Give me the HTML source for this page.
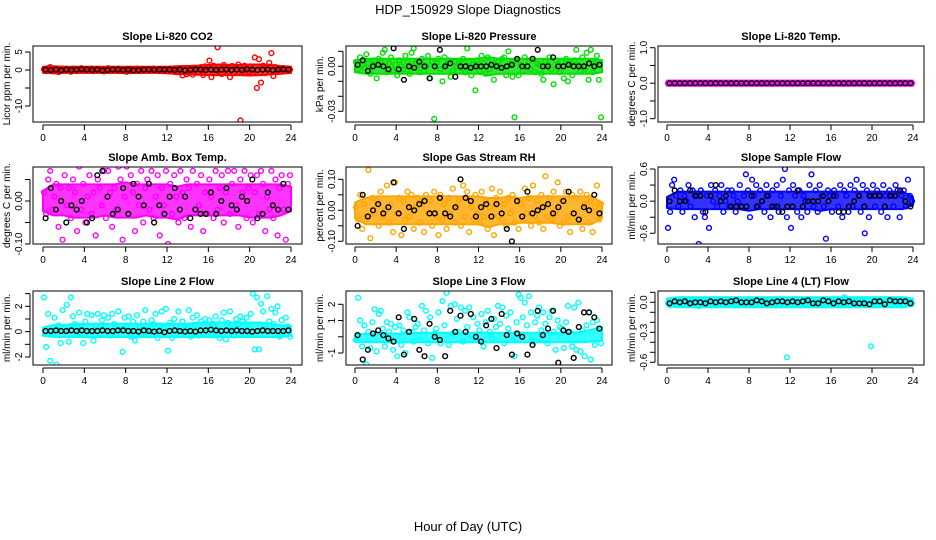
<!DOCTYPE html>
<html><head><meta charset="utf-8"><style>
body{margin:0;background:#fff;}
svg{display:block;font-family:"Liberation Sans",sans-serif;}
</style></head><body>
<svg id="chart" width="936" height="540" viewBox="0 0 936 540" xmlns="http://www.w3.org/2000/svg">
<defs id="defs"></defs>
<text x="468" y="14" text-anchor="middle" font-size="13">HDP_150929  Slope Diagnostics</text>
<text x="468" y="531" text-anchor="middle" font-size="13">Hour of Day (UTC)</text>
</svg>
<script>
// x ticks
const xTicks = [0,4,8,12,16,20,24];
// dense-band envelopes, one value per hour 0..24
const co2BandHi = [0.5,0.6,0.5,0.5,0.5,0.5,0.5,0.5,0.5,0.5,0.5,0.5,0.5,0.6,0.7,0.8,1.0,1.1,1.0,1.0,1.1,1.1,1.0,0.7,0.5];
const co2BandLo = [-0.4,-0.5,-0.4,-0.4,-0.4,-0.4,-0.4,-0.4,-0.5,-0.4,-0.4,-0.4,-0.5,-0.7,-0.8,-0.9,-1.0,-1.0,-1.0,-1.0,-1.1,-1.0,-0.8,-0.6,-0.4];
const presBandHi = [0.003,0.004,0.004,0.004,0.004,0.004,0.004,0.004,0.004,0.004,0.004,0.004,0.004,0.005,0.004,0.004,0.004,0.004,0.004,0.004,0.004,0.004,0.004,0.004,0.003];
const presBandLo = [-0.003,-0.004,-0.004,-0.004,-0.004,-0.004,-0.004,-0.004,-0.004,-0.004,-0.004,-0.004,-0.004,-0.005,-0.004,-0.004,-0.004,-0.004,-0.004,-0.004,-0.004,-0.004,-0.004,-0.004,-0.003];
const tempBandHi = [0.03,0.03,0.03,0.03,0.03,0.03,0.03,0.03,0.03,0.03,0.03,0.03,0.03,0.03,0.03,0.03,0.03,0.03,0.03,0.03,0.03,0.03,0.03,0.03,0.03];
const tempBandLo = [-0.03,-0.03,-0.03,-0.03,-0.03,-0.03,-0.03,-0.03,-0.03,-0.03,-0.03,-0.03,-0.03,-0.03,-0.03,-0.03,-0.03,-0.03,-0.03,-0.03,-0.03,-0.03,-0.03,-0.03,-0.03];
const ambBandHi = [0.02,0.035,0.035,0.035,0.035,0.035,0.035,0.035,0.04,0.035,0.035,0.035,0.035,0.03,0.035,0.035,0.035,0.035,0.035,0.035,0.035,0.035,0.035,0.035,0.03];
const ambBandLo = [-0.02,-0.03,-0.03,-0.035,-0.035,-0.035,-0.03,-0.035,-0.035,-0.035,-0.03,-0.035,-0.035,-0.04,-0.03,-0.03,-0.03,-0.03,-0.03,-0.03,-0.035,-0.035,-0.035,-0.03,-0.02];
const rhBandHi = [0.02,0.035,0.04,0.04,0.04,0.04,0.04,0.04,0.04,0.04,0.04,0.04,0.04,0.035,0.035,0.04,0.035,0.04,0.04,0.04,0.04,0.04,0.04,0.04,0.02];
const rhBandLo = [-0.02,-0.04,-0.04,-0.04,-0.04,-0.04,-0.04,-0.04,-0.04,-0.04,-0.04,-0.04,-0.04,-0.05,-0.04,-0.04,-0.035,-0.035,-0.035,-0.035,-0.04,-0.04,-0.04,-0.04,-0.02];
const flowBandHi = [0.05,0.15,0.15,0.15,0.15,0.15,0.15,0.15,0.15,0.15,0.15,0.15,0.15,0.15,0.15,0.15,0.15,0.15,0.15,0.15,0.15,0.15,0.15,0.15,0.05];
const flowBandLo = [-0.1,-0.12,-0.12,-0.12,-0.12,-0.12,-0.12,-0.12,-0.15,-0.12,-0.12,-0.12,-0.12,-0.12,-0.12,-0.15,-0.12,-0.12,-0.12,-0.12,-0.12,-0.12,-0.12,-0.12,-0.05];
const line2BandHi = [0.2,0.4,0.4,0.5,0.5,0.5,0.5,0.5,0.5,0.5,0.5,0.5,0.5,0.5,0.5,0.6,0.6,0.6,0.6,0.6,0.6,0.6,0.5,0.4,0.3];
const line2BandLo = [-0.2,-0.3,-0.3,-0.3,-0.3,-0.3,-0.3,-0.3,-0.3,-0.3,-0.3,-0.3,-0.3,-0.3,-0.3,-0.3,-0.3,-0.3,-0.3,-0.3,-0.3,-0.3,-0.3,-0.3,-0.2];
const line3BandHi = [0.05,0.1,0.1,0.1,0.1,0.1,0.15,0.15,0.15,0.15,0.15,0.15,0.15,0.15,0.15,0.15,0.15,0.15,0.15,0.15,0.15,0.15,0.2,0.35,0.5];
const line3BandLo = [-0.2,-0.25,-0.25,-0.25,-0.25,-0.25,-0.25,-0.25,-0.25,-0.25,-0.25,-0.25,-0.25,-0.25,-0.25,-0.25,-0.25,-0.25,-0.25,-0.25,-0.25,-0.25,-0.25,-0.2,-0.15];
const line4BandHi = [0.02,0.035,0.035,0.035,0.035,0.035,0.035,0.035,0.035,0.035,0.035,0.035,0.035,0.035,0.035,0.035,0.035,0.035,0.035,0.035,0.035,0.035,0.035,0.035,0.02];
const line4BandLo = [-0.02,-0.035,-0.035,-0.035,-0.035,-0.035,-0.035,-0.035,-0.035,-0.035,-0.035,-0.035,-0.035,-0.035,-0.035,-0.035,-0.035,-0.035,-0.035,-0.035,-0.035,-0.035,-0.035,-0.035,-0.02];
// colored series: sampled every 0.2 h starting 0.1 h; black series every 0.5 h starting 0.25 h
const co2Vals = [0.2,-0.3,0.5,0.8,0.1,-0.4,0.3,-0.6,0.2,0.4,-0.2,0.3,0.1,-0.5,0.4,0.2,-0.3,0.1,0.5,-0.2,0.3,-0.1,0.2,0.4,-0.3,0.1,-0.2,0.3,0.1,-0.4,0.2,0.5,-0.3,0.1,0.3,-0.2,0.4,0.1,-0.1,0.2,-0.5,0.2,0.3,-0.2,0.1,0.4,-0.3,0.2,0.1,-0.1,0.3,0.1,-0.2,0.4,0.2,-0.3,0.1,0.3,-0.1,0.2,0.1,-0.4,0.3,0.2,-0.6,0.5,-0.3,-1.5,0.2,-1.2,-0.8,0.4,-1.3,0.6,0.3,-0.5,0.8,-1.4,1.0,0.5,2.6,-2.0,1.2,-0.8,6.3,0.9,-1.1,1.4,0.7,-0.6,-2.0,1.1,-0.9,0.8,1.5,-14.0,-0.7,1.2,0.5,-0.4,1.0,-0.8,3.5,-5.0,3.0,-3.5,1.2,-0.9,0.6,2.0,4.7,-1.7,0.8,-0.5,0.4,-0.3,0.5,-0.2,0.3,0.1];
const co2Black = [0.1,0,0.1,-0.1,0.1,0,0.1,0.2,0.1,0,0.1,-0.1,0,0.1,0.1,0,0.1,-0.1,0,0.1,0.1,0,0.1,0.1,0.1,0,0.1,-0.1,0,0.1,0.1,0,0.1,0,0.1,0.1,0,0.1,0,0.2,0.1,0,0.1,0.1,0,0.1,0.2,0.1];
const presVals = [0.003,-0.002,0.006,0.001,-0.001,0.008,0.002,-0.005,0,0.004,-0.008,0.005,0.003,0.009,0.011,-0.004,0.002,0.006,-0.003,0.001,-0.006,0.004,0,-0.002,0.007,0.003,-0.005,0.009,0.012,0.002,0.001,-0.004,0.005,-0.003,0,0.007,-0.008,0.003,-0.035,0.002,0.005,-0.002,-0.010,0.006,0.001,0.004,-0.007,-0.003,0.003,0,0.002,-0.001,0.005,-0.004,0.012,0.003,-0.006,0.001,-0.016,0.004,-0.003,0.007,0.002,-0.005,0.006,-0.002,0.004,-0.009,0.001,0.003,-0.001,0.005,0.006,-0.006,0.010,0.002,-0.007,-0.034,0.004,-0.006,0.001,-0.003,0.006,0,0.003,-0.002,0.005,-0.004,0.002,0.001,-0.005,-0.009,0.003,0.001,0.006,-0.002,-0.012,0.004,0,-0.004,0.003,-0.008,0.005,-0.010,0.002,-0.006,0.004,0.011,0.001,-0.003,0.006,-0.002,0.009,-0.009,0.011,-0.004,0.002,0.007,-0.009,-0.034];
const presBlack = [0.001,0.004,-0.003,0,0.001,0,-0.002,0.012,-0.002,-0.009,0,-0.001,0.003,0,-0.008,0,0.011,0,0.002,-0.007,0,0,-0.001,0,0,0,0.001,0,-0.001,0,0.001,0.005,0,0,0.005,0.011,0,0,0.006,0,0,0.001,0,0,0,0.002,0,0.001];
const tempVals = [0,0,0,0,0,0,0,0,0,0,0,0,0,0,0,0,0,0,0,0,0,0,0,0,0,0,0,0,0,0,0,0,0,0,0,0,0,0,0,0,0,0,0,0,0,0,0,0,0,0,0,0,0,0,0,0,0,0,0,0,0,0,0,0,0,0,0,0,0,0,0,0,0,0,0,0,null,0,0,0,0,0,0,0,0,0,0,0,0,0,0,0,0,0,0,0,0,0,0,0,0,0,0,0,0,0,0,0,0,0,0,0,0,0,0,0,0,0,0,0];
const tempBlack = [0,0,0,0,0,0,0,0,0,0,0,0,0,0,0,0,0,0,0,0,0,0,0,0,0,0,0,0,0,0,0,0,0,0,0,0,0,0,0,0,0,0,0,0,0,0,0,0];
const ambVals = [0.02,-0.03,0.05,0.07,-0.02,0.01,0.04,-0.06,0.03,-0.09,0.06,-0.01,0.03,-0.04,0.05,0.02,-0.07,0.08,-0.02,0.04,-0.05,0.01,0.06,-0.03,0.02,-0.08,0.05,0.03,-0.01,0.07,-0.04,0.07,0.02,-0.06,0.03,-0.02,0.08,0.05,-0.09,0.01,0.08,-0.03,0.06,0.02,-0.07,0.04,-0.01,0.07,-0.05,0.03,0.05,-0.02,0.07,-0.04,0.01,0.06,-0.08,0.03,-0.01,0.07,-0.10,0.04,-0.03,0.06,0.01,-0.05,0.07,0.02,-0.04,0.05,0.03,-0.06,0.07,-0.02,0.04,-0.01,0.06,-0.07,0.02,-0.03,0.05,0.01,-0.04,0.07,-0.02,0.03,0.06,-0.05,0.02,0.07,-0.03,0.04,0.07,-0.01,-0.06,0.05,0.02,0.07,-0.04,0.03,0.06,-0.05,0.02,0.06,-0.03,0.07,0.04,-0.07,0.01,-0.02,0.07,-0.04,0.05,-0.08,0.03,0.06,-0.02,-0.09,0.04,0.06];
const ambBlack = [-0.04,0.03,-0.02,0,-0.05,-0.01,-0.02,0,-0.05,-0.04,0.06,0.07,0.01,-0.03,-0.02,0.03,-0.03,0.04,0.01,-0.01,0.04,-0.05,-0.01,-0.03,0.01,0.03,-0.02,0.01,-0.04,-0.02,-0.03,-0.03,0.02,-0.03,0,0.03,-0.01,-0.02,0.01,0,0.05,-0.04,-0.03,0.02,-0.01,-0.02,0.04,-0.02];
const rhVals = [0.01,-0.03,0.05,-0.06,0.02,-0.02,0.13,-0.09,0.04,-0.01,0.03,-0.05,0.06,-0.02,0,0.08,-0.04,0.02,-0.07,0.09,-0.01,0.04,-0.08,0.03,-0.03,0.06,-0.02,0.05,-0.06,0.01,0.04,-0.04,0.02,-0.07,0.05,-0.01,0.03,-0.05,0.06,-0.02,-0.08,0.05,-0.03,0.02,-0.06,0.04,-0.01,0.07,-0.04,0.01,0.03,-0.05,0.08,-0.02,0.06,-0.07,0.01,-0.03,0.05,-0.01,-0.04,0.06,-0.02,0.03,-0.06,0.01,0.07,-0.08,0.04,-0.02,0.06,-0.03,0.02,-0.05,0.04,-0.01,0.05,-0.04,0.03,-0.06,0.02,-0.03,0.07,-0.01,0.04,-0.05,0.08,-0.02,0.03,-0.04,0.05,-0.06,0.11,-0.02,0.04,-0.03,0.06,-0.01,0.09,-0.05,0.03,-0.04,0.06,-0.02,-0.07,0.05,-0.01,0.04,-0.03,0.06,-0.06,0.02,0.05,-0.04,0.03,-0.07,0.01,0.08,-0.03,0.02];
const rhBlack = [-0.05,0.05,-0.02,0,0.02,-0.01,0.01,0.09,-0.01,-0.06,0.01,0,0.02,0.03,-0.01,-0.01,0.04,-0.01,-0.02,0.01,0.10,0.04,0.03,-0.02,0.01,0.02,-0.02,0.02,-0.01,-0.06,-0.10,0.03,-0.02,0.06,-0.01,0,0.01,0.02,-0.01,0.01,0.03,0.06,-0.01,-0.03,0.01,0,0.05,-0.01];
const flowVals = [-0.5,-0.2,0.3,0.4,0.1,-0.1,0.2,-0.2,0.1,0,0.3,-0.1,0.2,-0.3,0.1,-0.8,0.2,-0.2,-0.3,0.1,-0.5,0.3,0,0.2,-0.1,0.1,0.3,-0.2,0,0.2,-0.1,0.2,0.1,-0.2,0,0.3,-0.1,0.1,0.5,0.2,-0.3,0.4,0.1,0.3,-0.1,0.2,0,-0.2,0.3,0.1,-0.3,0.2,-0.1,0.3,-0.2,0.1,0.4,0.6,-0.3,0.2,-0.5,0.3,0.1,-0.2,0.2,-0.3,0.1,0,-0.2,0.3,0.5,-0.1,0.2,-0.2,0.3,0.1,-0.1,-0.7,0.2,0.1,-0.2,0.2,0.1,-0.1,0.3,-0.3,0.2,0.1,-0.2,0.3,-0.1,0.2,0.4,0.1,-0.2,0.3,-0.6,0.2,-0.3,0.1,0.3,-0.1,0.2,0.1,-0.2,0.3,0.1,-0.3,0.2,0.1,-0.1,0.3,0.2,-0.3,0.1,0.2,-0.1,0.4,0.1,0];
const flowBlack = [0,0.2,0,0,0.2,0.1,0.1,-0.2,0.1,0.3,0,0.1,-0.1,-0.1,-0.1,-0.1,0.1,-0.1,0,0.1,-0.1,-0.1,-0.2,-0.1,-0.1,0.2,-0.1,0,0,0,0.1,0,0.1,-0.2,-0.2,-0.1,0,0.1,-0.1,0.1,0.1,0.1,-0.1,0.1,0.1,0.2,0,-0.1];
const line2Vals = [2.7,-1.2,1.4,-2.3,-0.2,1.1,-2.6,0.5,-0.9,1.7,0.3,2.1,-0.8,2.7,1.2,0.6,-0.2,1.5,0.4,-0.9,0.8,1.4,-0.3,1.3,-0.7,0.5,1.4,-0.2,0.9,1.3,0.4,1.1,-0.3,1.4,0.6,-0.2,1.6,0.2,-1.6,1.1,0.5,1.2,-0.4,0.8,-0.7,1.3,0.3,-0.2,0.8,1.7,0.2,-0.3,0.9,0.6,1.4,-0.5,0.5,1.6,0.3,1.8,-1.5,0.7,-0.5,1.0,0.4,1.6,-0.2,0.8,0.5,0.3,1.7,-0.4,1.1,0.5,1.3,-0.3,0.8,-0.2,1.0,0.4,0.9,-0.3,0.6,1.2,0.3,-0.5,0.9,1.5,-0.6,0.7,1.6,0.2,-0.3,1.0,0.6,1.2,0.8,-0.2,1.1,0.5,1.4,3.0,-1.4,2.7,-1.4,2.2,1.6,0.5,2.8,0.8,1.8,0.6,1.5,2.0,-0.4,0.9,0.3,1.1,0.4,-0.4];
const line2Black = [0.05,0.05,0.1,0.05,0.05,0.1,0.05,0.1,0.05,0.05,0.05,0.1,0.05,0.05,0.1,0.1,0.05,0.05,0,0.1,0.05,0,0.05,-0.05,0.05,0.1,0.05,0,0.05,0,0.1,0.1,0.15,0.1,0.05,0.1,0.05,0.1,0.05,0.05,0,0.05,0.1,0.05,0.05,0.05,0.05,0.1];
const line3Vals = [-0.2,2.4,1.0,-0.6,0.7,-1.7,0.3,-0.7,0.9,1.7,-0.9,1.4,1.6,0.5,-0.6,0.9,0.3,0.8,-0.8,0.6,-1.2,0.7,-0.5,0.4,-1.0,1.5,1.2,0.3,-0.3,0.6,0.8,-0.2,1.9,0.4,1.6,-0.4,1.2,-1.3,0.2,0.5,1.5,-0.4,2.2,0.7,2.7,-0.5,1.9,0.2,2.0,1.1,0.3,1.8,-0.3,1.6,0.6,1.8,0.1,1.2,-0.2,0.8,0.4,1.4,-0.6,0.9,1.6,0.3,-0.1,1.1,0.6,1.9,0.8,1.8,-0.4,1.3,0.5,1.5,-0.2,-1.2,0.9,2.6,2.4,1.2,2.1,0.7,2.5,1.5,-0.3,0.9,1.3,1.8,0.4,1.5,0.8,-0.4,1.2,1.6,0.3,-0.8,1.0,0.6,0.5,-0.7,0.9,1.9,0.3,-0.6,1.8,-0.8,2.1,-0.9,0.4,-1.2,0.7,1.5,-1.4,0.9,-0.5,1.0,0.5,-0.4];
const line3Black = [0.1,-1.4,-0.8,0.2,0.4,0.1,-0.1,-0.3,1.2,-1.1,0.3,1.1,-0.8,-1.2,0.8,0,-0.2,-1.2,1.6,0.3,1.3,0.3,1.4,0,-0.3,0.7,1.1,-0.7,1.4,0.1,-1.1,0.2,0,-1.1,-0.5,1.6,0.1,0.5,1.6,-1.6,0.4,0.3,-1.3,0.6,1.5,1.5,1.2,0.5];
const line4Vals = [-0.01,-0.03,0.02,0,-0.02,0.03,0.01,-0.01,0.02,0,-0.02,0.01,0.03,-0.01,0,-0.04,0.02,0.01,-0.66,0,0.02,-0.01,0.03,0,-0.02,0.01,0.02,-0.01,0,0.03,0.01,-0.02,0,0.02,-0.01,0.03,0,-0.01,0.02,-0.03,0,0.02,-0.01,0.01,0.03,-0.02,0,0.01,-0.01,0.02,-0.02,0.01,0,0.03,-0.01,0.02,0,-0.02,-0.55,0.01,0.01,-0.01,0.02,0,-0.02,0.03,0.01,-0.01,0,0.02,-0.01,0.02,0,-0.03,0.01,0.02,-0.01,0,0.03,0.01,-0.02,0.01,0.03,0,-0.01,0.02,0.05,-0.01,0,0.01,0.02,-0.01,0,0.03,-0.02,0.01,0,-0.01,0.02,-0.44,0.01,-0.02,0,0.02,0.03,-0.01,0.01,0,-0.02,0.02,0.03,0,-0.01,0.02,0.01,-0.02,0.03,0,0.01,-0.01];
const line4Black = [-0.01,0.01,0,0.01,-0.01,0,0,-0.01,0.01,0,0.01,0,0.01,0.02,0,0,0,0.02,0.01,-0.01,0,0.01,0.01,0,0.01,0,0.01,0.02,-0.01,-0.01,0.02,0.01,-0.01,0.01,0,0.01,-0.01,-0.01,-0.01,-0.02,0.01,0.01,-0.02,0.02,0.01,0.01,0.01,-0.01];

const co2Ticks=[5,0,-5,-10], co2Labels=["5","0","","-10"];
const presTicks=[0.01,0,-0.01,-0.02,-0.03], presLabels=["","0.00","","","-0.03"];
const tempTicks=[1,0.5,0,-0.5,-1], tempLabels=["1.0","","0.0","","-1.0"];
const ambTicks=[0.05,0,-0.05,-0.1], ambLabels=["","0.00","","-0.10"];
const rhTicks=[0.1,0.05,0,-0.05,-0.1], rhLabels=["0.10","","0.00","","-0.10"];
const flowTicks=[0.6,0.3,0,-0.3,-0.6], flowLabels=["0.6","","0.0","","-0.6"];
const line2Ticks=[3,2,1,0,-1,-2], line2Labels=["","2","","0","","-2"];
const line3Ticks=[2,1,0,-1], line3Labels=["2","1","","-1"];
const line4Ticks=[0.1,0,-0.1,-0.2,-0.3,-0.4,-0.5,-0.6], line4Labels=["","0.0","","","-0.3","","","-0.6"];

const NS="http://www.w3.org/2000/svg";
const svg=document.getElementById('chart');
const defs=document.getElementById('defs');
const cols=[{L:33,R:302,x0:43,x24:291},{L:346,R:612,x0:355,x24:602},{L:658,R:924,x0:667,x24:913}];
const rows=[{T:46,B:122},{T:167,B:244},{T:291,B:365}];
const panels=[
 {name:'co2',title:'Slope Li-820 CO2',ylab:'Licor ppm per min.',c:0,r:0,v1:0,y1:70,v2:5,y2:52,ticks:co2Ticks,labels:co2Labels,vals:co2Vals,blk:co2Black,hi:co2BandHi,lo:co2BandLo,col:'#ff0000'},
 {name:'pressure',title:'Slope Li-820 Pressure',ylab:'kPa per min.',c:1,r:0,v1:0,y1:66.3,v2:-0.03,y2:111.3,ticks:presTicks,labels:presLabels,vals:presVals,blk:presBlack,hi:presBandHi,lo:presBandLo,col:'#00e000'},
 {name:'licor-temp',title:'Slope Li-820 Temp.',ylab:'degrees C per min.',c:2,r:0,v1:1,y1:47.7,v2:-1,y2:118.7,ticks:tempTicks,labels:tempLabels,vals:tempVals,blk:tempBlack,hi:tempBandHi,lo:tempBandLo,col:'#ff00ff'},
 {name:'amb-box-temp',title:'Slope Amb. Box Temp.',ylab:'degrees C per min.',c:0,r:1,v1:0,y1:201,v2:-0.1,y2:244,ticks:ambTicks,labels:ambLabels,vals:ambVals,blk:ambBlack,hi:ambBandHi,lo:ambBandLo,col:'#ff00ff'},
 {name:'gas-stream-rh',title:'Slope Gas Stream RH',ylab:'percent per min.',c:1,r:1,v1:0.1,y1:179.3,v2:-0.1,y2:241.3,ticks:rhTicks,labels:rhLabels,vals:rhVals,blk:rhBlack,hi:rhBandHi,lo:rhBandLo,col:'#ffa500'},
 {name:'sample-flow',title:'Slope Sample Flow',ylab:'ml/min per min.',c:2,r:1,v1:0.6,y1:169,v2:-0.6,y2:233.3,ticks:flowTicks,labels:flowLabels,vals:flowVals,blk:flowBlack,hi:flowBandHi,lo:flowBandLo,col:'#0000ff'},
 {name:'line2-flow',title:'Slope Line 2 Flow',ylab:'ml/min per min.',c:0,r:2,v1:2,y1:306.3,v2:-2,y2:357,ticks:line2Ticks,labels:line2Labels,vals:line2Vals,blk:line2Black,hi:line2BandHi,lo:line2BandLo,col:'#00ffff'},
 {name:'line3-flow',title:'Slope Line 3 Flow',ylab:'ml/min per min.',c:1,r:2,v1:2,y1:304.3,v2:-1,y2:353,ticks:line3Ticks,labels:line3Labels,vals:line3Vals,blk:line3Black,hi:line3BandHi,lo:line3BandLo,col:'#00ffff'},
 {name:'line4-flow',title:'Slope Line 4 (LT) Flow',ylab:'ml/min per min.',c:2,r:2,v1:0,y1:302.3,v2:-0.6,y2:362.3,ticks:line4Ticks,labels:line4Labels,vals:line4Vals,blk:line4Black,hi:line4BandHi,lo:line4BandLo,col:'#00ffff'}
];
function mk(tag,attrs,parent){const e=document.createElementNS(NS,tag);for(const k in attrs)e.setAttribute(k,attrs[k]);(parent||svg).appendChild(e);return e;}
panels.forEach((p,pi)=>{
 const C=cols[p.c],R=rows[p.r];
 const g=mk('g',{});
 
 
 const xs=t=>C.x0+t/24*(C.x24-C.x0);
 const ys=v=>p.y1+(v-p.v1)*(p.y2-p.y1)/(p.v2-p.v1);
 const cp=mk('clipPath',{id:'clip'+pi},defs);
 mk('rect',{x:C.L,y:R.T,width:C.R-C.L,height:R.B-R.T},cp);
 const t=mk('text',{x:(C.L+C.R)/2,y:R.T-6,'text-anchor':'middle','font-size':'11','font-weight':'bold'},g);
 t.textContent=p.title;
 
 
 const pg=mk('g',{fill:'none','stroke-width':'1.4','clip-path':'url(#clip'+pi+')'},g);
 
 
 let pts=[];
 p.hi.forEach((v,h)=>pts.push(xs(h).toFixed(1)+','+(ys(v)-1.5).toFixed(1)));
 for(let h=p.lo.length-1;h>=0;h--)pts.push(xs(h).toFixed(1)+','+(ys(p.lo[h])+1.5).toFixed(1));
 const band=mk('polygon',{points:pts.join(' '),fill:p.col,'fill-opacity':'0.8',stroke:p.col,'stroke-width':'2','stroke-linejoin':'round'},pg);
 
 
 p.vals.forEach((v,i)=>{ if(v===null)return;
  const c=mk('circle',{cx:xs(0.1+0.2*i).toFixed(1),cy:ys(v).toFixed(1),r:2.4,stroke:p.col},pg);
  
  
 });
 p.blk.forEach((v,i)=>{
  const c=mk('circle',{cx:xs(0.25+0.5*i).toFixed(1),cy:ys(v).toFixed(1),r:2.4,stroke:'#000'},pg);
  
  
 });
 const box=mk('rect',{x:C.L,y:R.T,width:C.R-C.L,height:R.B-R.T,fill:'none',stroke:'#000','stroke-width':1},g);
 
 
 const xa=mk('g',{},g);
 
 
 mk('line',{x1:xs(0),x2:xs(24),y1:R.B+3,y2:R.B+3,stroke:'#000'},xa);
 xTicks.forEach(v=>{
  mk('line',{x1:xs(v),x2:xs(v),y1:R.B+3,y2:R.B+8,stroke:'#000'},xa);
  const l=mk('text',{x:xs(v),y:R.B+19,'text-anchor':'middle','font-size':'10'},xa);
  l.textContent=v;
  
  
 });
 const ya=mk('g',{},g);
 
 
 const yt=p.ticks.map(ys);
 mk('line',{x1:C.L-3,x2:C.L-3,y1:Math.min(...yt),y2:Math.max(...yt),stroke:'#000'},ya);
 p.ticks.forEach((v,i)=>{
  const y=ys(v);
  mk('line',{x1:C.L-8,x2:C.L-3,y1:y,y2:y,stroke:'#000'},ya);
  if(p.labels[i]){
   const l=mk('text',{x:0,y:0,'text-anchor':'middle','font-size':'10',transform:`translate(${C.L-11},${y}) rotate(-90)`},ya);
   l.textContent=p.labels[i];
   
   
  }
 });
 const yl=mk('text',{x:0,y:0,'text-anchor':'middle','font-size':'10',transform:`translate(${C.L-23},${(R.T+R.B)/2}) rotate(-90)`},g);
 yl.textContent=p.ylab;
 
 
});
</script>
</body></html>
